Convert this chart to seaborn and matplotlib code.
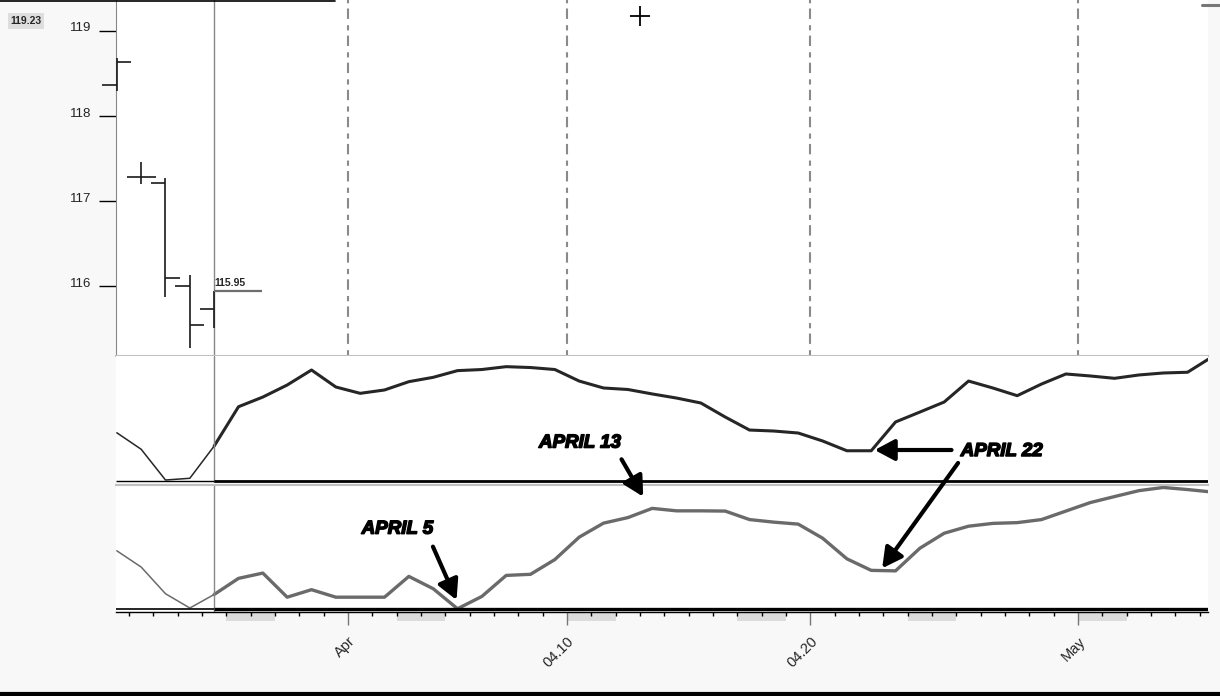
import numpy as np
import pandas as pd
import matplotlib
matplotlib.use('Agg')
import matplotlib.pyplot as plt
import matplotlib.dates as mdates
import matplotlib.ticker as mticker
import matplotlib.transforms as mtransforms
import matplotlib.patheffects as pe
import seaborn as sns

# ---- values ----
start = pd.Timestamp('2010-03-22')
days = pd.date_range('2010-03-22 12:00', periods=46, freq='D')

# daily OHLC bars (Mar 22 - Mar 26)
bar_open = [118.37, 117.28, 117.21, 116.00, 115.73]
bar_high = [118.68, 117.46, 117.27, 116.13, 115.94]
bar_low = [118.29, 117.20, 115.88, 115.27, 115.51]
bar_close = [118.64, 117.28, 116.10, 115.55, 115.95]
last_price = 115.95
price_tag = '119.23'
cursor_time = pd.Timestamp('2010-04-13 00:00')
cursor_price = 119.18

# oscillators (0 = panel floor, 100 = panel top)
fast_osc = [38.9, 25.6, 0.8, 2.2, 28.2, 59.9, 67.7, 77.4, 89.5, 75.8,
            70.7, 73.4, 80.1, 83.6, 89.0, 89.9, 92.2, 91.5, 89.9, 80.6,
            75.0, 73.8, 70.2, 66.9, 62.9, 51.6, 41.1, 40.3, 38.7, 32.3,
            24.4, 24.4, 47.6, 55.6, 63.7, 80.6, 75.0, 68.8, 78.2, 86.3,
            84.7, 82.8, 85.5, 87.1, 87.7, 100.0]
slow_osc = [47.3, 34.1, 12.4, 0.8, 11.8, 24.9, 29.2, 9.6, 15.7, 9.6,
            9.6, 9.6, 26.5, 16.5, 0.2, 10.2, 27.3, 28.2, 40.2, 58.4,
            69.8, 74.3, 81.8, 79.8, 79.8, 79.6, 72.7, 70.6, 69.0, 57.6,
            40.8, 31.4, 31.0, 49.4, 61.6, 67.3, 69.6, 70.2, 72.7, 79.6,
            86.5, 91.4, 96.2, 98.8, 97.1, 95.1]

price_ticks = [116, 117, 118, 119]
date_ticks = pd.to_datetime(['2010-04-01', '2010-04-10', '2010-04-20', '2010-05-01'])
date_labels = ['Apr', '04.10', '04.20', 'May']
weekend_starts = pd.to_datetime(['2010-03-27', '2010-04-03', '2010-04-10',
                                 '2010-04-17', '2010-04-24', '2010-05-01'])

# ---- figure ----
sns.set_style('white')
plt.rcParams['font.family'] = ['Liberation Sans', 'DejaVu Sans']

W, H = 1220, 696
fig = plt.figure(figsize=(W / 100, H / 100), dpi=100, facecolor='#f8f8f8')


def box(left, top, right, bottom):
    return [left / W, 1 - bottom / H, (right - left) / W, (bottom - top) / H]


ax_top = fig.add_axes(box(116, 0, 1208, 356))
ax_mid = fig.add_axes(box(116, 356, 1208, 482.5))
ax_low = fig.add_axes(box(116, 485, 1208, 612))

t0 = mdates.date2num(start)
x_left, x_right = t0 + 0.466, t0 + 45.34
x_days = mdates.date2num(days)
today = x_days[len(bar_open) - 1]

# price panel
bars = pd.DataFrame({'x': x_days[:len(bar_open)], 'open': bar_open, 'high': bar_high,
                     'low': bar_low, 'close': bar_close})
ax_top.vlines(bars['x'], bars['low'], bars['high'], color='#1a1a1a', lw=1.2, clip_on=False, zorder=4)
ax_top.hlines(bars['open'], bars['x'] - 0.6, bars['x'], color='#1a1a1a', lw=1.2, clip_on=False, zorder=4)
ax_top.hlines(bars['close'], bars['x'], bars['x'] + 0.6, color='#1a1a1a', lw=1.2, clip_on=False, zorder=4)
ax_top.hlines(last_price, today, today + 1.97, color='#6e6e6e', lw=1.6, zorder=4)
ax_top.text(today + 0.02, last_price + 0.03, f'{last_price:.2f}', fontsize=7.5,
            fontweight='bold', ha='left', va='bottom')
ax_top.plot(mdates.date2num(cursor_time), cursor_price, marker='+', ms=14, mew=1.3,
            color='black', clip_on=False, zorder=5)
ax_top.vlines(mdates.date2num(date_ticks), 115.0, 119.5, colors='#8a8a8a', lw=1.5,
              linestyles=(0, (5, 2.5, 2.5, 3)))
ax_top.set_ylim(115.181, 119.364)
ax_top.set_yticks(price_ticks)
ax_top.set_yticklabels([str(v) for v in price_ticks])
ax_top.tick_params(axis='y', direction='out', length=12, width=1, color='black',
                   pad=6, labelsize=9.5, labelcolor='#222222', left=True)
ax_top.tick_params(axis='x', bottom=False, labelbottom=False)
for lab in ax_top.get_yticklabels():
    lab.set_transform(lab.get_transform() + mtransforms.ScaledTranslation(0, 0.04, fig.dpi_scale_trans))
for s in ['top', 'right']:
    ax_top.spines[s].set_visible(False)
ax_top.spines['left'].set_color('#888888')
ax_top.spines['bottom'].set_color('#c0c0c0')
ax_top.spines['bottom'].set_linewidth(1.5)

# oscillator panels
osc = pd.DataFrame({'date': days, 'fast': fast_osc, 'slow': slow_osc})
hist = osc.iloc[:len(bar_open)]
live = osc.iloc[len(bar_open) - 1:]
sns.lineplot(data=hist, x='date', y='fast', ax=ax_mid, color='#262626', linewidth=1.1)
sns.lineplot(data=live, x='date', y='fast', ax=ax_mid, color='#262626', linewidth=2.2)
sns.lineplot(data=hist, x='date', y='slow', ax=ax_low, color='#6a6a6a', linewidth=1.1)
sns.lineplot(data=live, x='date', y='slow', ax=ax_low, color='#6a6a6a', linewidth=2.4)

ax_mid.set_ylim(-1.2, 100.8)
ax_low.set_ylim(-2.44, 100.8)
ax_mid.hlines(0, x_left, today, color='black', lw=1.0, zorder=3)
ax_mid.hlines(0, today, x_right, color='black', lw=2.0, zorder=3)
ax_low.hlines(0, x_left, today, color='black', lw=1.2, zorder=3)
ax_low.hlines(0, today, x_right, color='black', lw=2.4, zorder=3)

for ax in [ax_mid, ax_low]:
    ax.set_xlabel('')
    ax.set_ylabel('')
    ax.set_yticks([])
    for s in ['left', 'right', 'top', 'bottom']:
        ax.spines[s].set_visible(False)
ax_mid.tick_params(axis='x', bottom=False, labelbottom=False)
ax_low.spines['top'].set_visible(True)
ax_low.spines['top'].set_color('#c0c0c0')
ax_low.spines['top'].set_linewidth(1.5)
ax_low.spines['bottom'].set_visible(True)
ax_low.spines['bottom'].set_color('black')
ax_low.spines['bottom'].set_linewidth(1.0)

for ax in [ax_top, ax_mid, ax_low]:
    ax.set_facecolor('white')
    ax.set_xlim(x_left, x_right)
    ax.axvline(today, color='#888888', lw=1.0, zorder=2)

# date axis
ax_low.xaxis.set_major_locator(mticker.FixedLocator(mdates.date2num(date_ticks)))
ax_low.xaxis.set_major_formatter(mticker.FixedFormatter(date_labels))
ax_low.xaxis.set_minor_locator(mdates.DayLocator())
ax_low.tick_params(axis='x', which='major', bottom=True, direction='out', length=9,
                   width=1, color='#777777', pad=7, labelsize=10.5)
ax_low.tick_params(axis='x', which='minor', bottom=True, direction='out', length=3,
                   width=1, color='black')
for lab in ax_low.get_xticklabels():
    lab.set_rotation(45)
    lab.set_ha('right')
    lab.set_va('top')
    lab.set_rotation_mode('anchor')
for ws in weekend_starts:
    span = ax_low.axvspan(mdates.date2num(ws), mdates.date2num(ws) + 2, ymin=-0.071, ymax=-0.008,
                          color='#dcdcdc', lw=0, zorder=0)
    span.set_clip_on(False)

# annotations (positions in days from Mar 22, panel value)
label_font = dict(fontsize=13.5, fontweight='bold', fontstyle='italic', color='black',
                  ha='center', va='center',
                  path_effects=[pe.withStroke(linewidth=1.1, foreground='black')])
ax_mid.text(t0 + 19.53, 30.6, 'APRIL 13', **label_font)
ax_low.text(t0 + 12.03, 64.9, 'APRIL 5', **label_font)
ax_mid.text(t0 + 36.86, 23.8, 'APRIL 22', **label_font)

arrow = dict(arrowstyle='-|>,head_length=0.6,head_width=0.32', color='black', lw=3,
             mutation_scale=20, shrinkA=0, shrinkB=0)
arrows = [
    (ax_low, (21.24, 121.7), (22.13, 91.3)),
    (ax_low, (13.49, 50.7), (14.46, 7.3)),
    (ax_mid, (34.80, 25.0), (31.64, 25.0)),
    (ax_low, (35.07, 118.7), (31.95, 33.1)),
]
for ax, tail, tip in arrows:
    ax.annotate('', xy=(t0 + tip[0], tip[1]), xytext=(t0 + tail[0], tail[1]),
                arrowprops=arrow, annotation_clip=False, zorder=6)

# frame extras
fig.text(26 / W, 1 - 21 / H, price_tag, fontsize=7.5, fontweight='bold', ha='center', va='center',
         bbox=dict(boxstyle='square,pad=0.25', fc='#dedede', ec='none'))
fig.add_artist(plt.Line2D([0, 335 / W], [1 - 0.8 / H] * 2, transform=fig.transFigure,
                          color='black', lw=1.2))
fig.add_artist(plt.Line2D([1202 / W, 1219 / W], [1 - 5 / H] * 2, transform=fig.transFigure,
                          color='#777777', lw=2.2))
fig.add_artist(plt.Line2D([0, 1], [2 / H] * 2, transform=fig.transFigure, color='black', lw=3))

fig.savefig('out.png', dpi=100, facecolor=fig.get_facecolor())
